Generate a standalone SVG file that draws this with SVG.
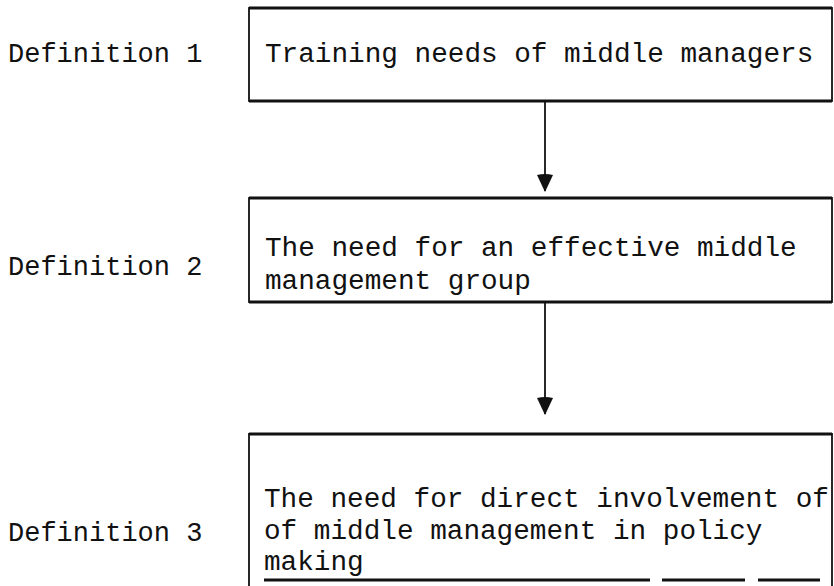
<svg xmlns="http://www.w3.org/2000/svg" width="834" height="586" viewBox="0 0 834 586">
<defs>
<style>
.lbl{font-family:"Liberation Mono","Courier New",monospace;font-size:27px;fill:#111}
.txt{font-family:"Liberation Mono","Courier New",monospace;font-size:27.7px;fill:#111}
.box{fill:none;stroke:#111;stroke-width:1.8}
.edge{stroke:#111;stroke-width:3.2;fill:none}
.conn{stroke:#111;stroke-width:1.8;fill:none}
</style>
<marker id="head" viewBox="0 0 18 16" refX="17" refY="8" markerWidth="18" markerHeight="16" markerUnits="userSpaceOnUse" orient="auto">
<path d="M1,0 Q-1,8 1,16 L18,8 Z" fill="#111"/>
</marker>
</defs>
<g id="labels">
<text class="lbl" x="8" y="62">Definition 1</text>
<text class="lbl" x="8" y="275">Definition 2</text>
<text class="lbl" x="8" y="541">Definition 3</text>
</g>
<g id="node1">
<rect class="box" x="249" y="8" width="583" height="93"/>
<line class="edge" x1="249" y1="8" x2="832" y2="8"/>
<line class="edge" x1="249" y1="101" x2="832" y2="101"/>
<text class="txt" x="265" y="62">Training needs of middle managers</text>
</g>
<g id="node2">
<rect class="box" x="249" y="198" width="583" height="104"/>
<line class="edge" x1="249" y1="198" x2="832" y2="198"/>
<line class="edge" x1="249" y1="302" x2="832" y2="302"/>
<text class="txt" x="265" y="256">The need for an effective middle</text>
<text class="txt" x="265" y="289">management group</text>
</g>
<g id="node3">
<path class="box" d="M249,586 V434 H832 V586"/>
<line class="edge" x1="249" y1="434" x2="832" y2="434"/>
<path class="edge" d="M264,580 H650 M662,580 H745 M758,580 H820"/>
<text class="txt" x="264" y="507">The need for direct involvement of</text>
<text class="txt" x="264" y="539">of middle management in policy</text>
<text class="txt" x="264" y="570">making</text>
</g>
<g id="connectors">
<line class="conn" x1="545" y1="102" x2="545" y2="191" marker-end="url(#head)"/>
<line class="conn" x1="545" y1="303" x2="545" y2="414" marker-end="url(#head)"/>
</g>
</svg>
